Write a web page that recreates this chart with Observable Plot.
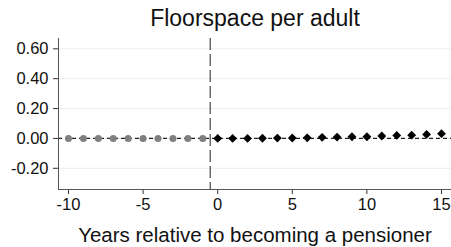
<!DOCTYPE html>
<html><head><meta charset="utf-8">
<script src="https://cdn.jsdelivr.net/npm/d3@7"></script>
<script src="https://cdn.jsdelivr.net/npm/@observablehq/plot@0.6"></script>
<style>body{margin:0;background:#fff;font-family:"Liberation Sans",Arial,sans-serif;}</style>
</head><body><div id="chart"></div>
<script>
const preYears = [-10,-9,-8,-7,-6,-5,-4,-3,-2,-1];
const preValues = [0,0,0,0,0,0,0,0,0,0];
const postYears = [0,1,2,3,4,5,6,7,8,9,10,11,12,13,14,15];
const postValues = [0,0,0,0.001,0.002,0.003,0.004,0.007,0.009,0.011,0.011,0.016,0.02,0.022,0.027,0.032];
const xTicks = [-10,-5,0,5,10,15];
const yTicks = [-0.2,0,0.2,0.4,0.6];
const title = "Floorspace per adult";
const xLabel = "Years relative to becoming a pensioner";

const pre = preYears.map((t,i)=>({t, v: preValues[i]}));
const post = postYears.map((t,i)=>({t, v: postValues[i]}));
const hyph = f => d => f(d).replace("\u2212", "-");

const chart = Plot.plot({
  width: 451, height: 247,
  marginTop: 38, marginBottom: 58, marginLeft: 58, marginRight: 0,
  style: {fontFamily: '"Liberation Sans", Arial, sans-serif', fontSize: "16px", color: "#111", background: "#fff"},
  x: {domain: [-10.67, 15.67], label: null},
  y: {domain: [-0.342, 0.669], label: null},
  marks: [
    Plot.gridY(yTicks, {stroke: "#e6eff1", strokeOpacity: 1, strokeWidth: 1}),
    Plot.ruleY([0], {stroke: "#222", strokeWidth: 1.2, strokeDasharray: "4,3"}),
    Plot.ruleX([-0.5], {stroke: "#555", strokeWidth: 1.3, strokeDasharray: "12,4"}),
    Plot.dot(pre, {x: "t", y: "v", r: 3.5, fill: "#808080", stroke: null}),
    Plot.dot(post, {x: "t", y: "v", symbol: "diamond2", r: 4, fill: "#000", stroke: null}),
    Plot.axisX({ticks: xTicks, tickSize: 5, tickPadding: 4, tickFormat: hyph(d3.format("d")), label: null, fontSize: 16.5, stroke: "#333"}),
    Plot.axisY({ticks: yTicks, tickSize: 5, tickPadding: 5, tickFormat: hyph(d3.format(".2f")), label: null, fontSize: 16.5, stroke: "#333"}),
    Plot.ruleX([-10.67], {stroke: "#555", strokeWidth: 1}),
    Plot.ruleY([-0.342], {stroke: "#555", strokeWidth: 1}),
    Plot.text([title], {frameAnchor: "top", lineAnchor: "top", dy: -29, fontSize: 23, fill: "#111"}),
    Plot.text([xLabel], {frameAnchor: "bottom", lineAnchor: "top", dy: 38, fontSize: 20.5, fill: "#111"})
  ]
});
document.getElementById("chart").appendChild(chart);
</script></body></html>
